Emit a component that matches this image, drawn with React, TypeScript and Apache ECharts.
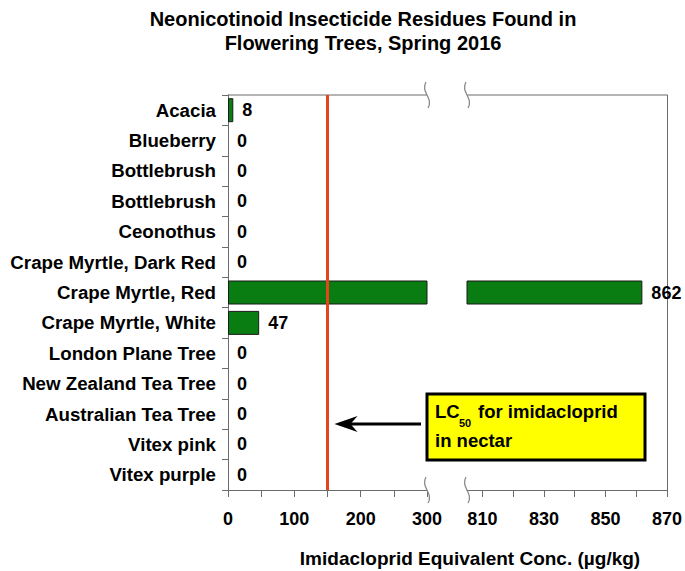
import React, { useEffect, useRef } from 'react';
import * as echarts from 'echarts';

const categories = [
  'Acacia',
  'Blueberry',
  'Bottlebrush',
  'Bottlebrush',
  'Ceonothus',
  'Crape Myrtle, Dark Red',
  'Crape Myrtle, Red',
  'Crape Myrtle, White',
  'London Plane Tree',
  'New Zealand Tea Tree',
  'Australian Tea Tree',
  'Vitex pink',
  'Vitex purple',
];
const values = [8, 0, 0, 0, 0, 0, 862, 47, 0, 0, 0, 0, 0];

const leftMin = 0;
const leftMax = 300;
const leftTicks = [0, 50, 100, 150, 200, 250, 300];
const leftLabels = [0, 100, 200, 300];

const rightMin = 805;
const rightMax = 870;
const rightTicks = [810, 820, 830, 840, 850, 860, 870];
const rightLabels = [810, 830, 850, 870];

const lc50 = 150;

const FONT = '"Liberation Sans", Arial, Helvetica, sans-serif';
const GREEN = '#0a7d12';
const AXIS = '#6b6b6b';
const RED = '#e2471c';

const GT = 95;
const GH = 395;
const LX = 228;
const LW = 199;
const RX = 467;
const RW = 200;

export default function App() {
  const ref = useRef<HTMLDivElement>(null);
  useEffect(() => {
    document.body.style.margin = '0';
    const chart = echarts.init(ref.current!, null, { renderer: 'svg' });
    const labelStyle = {
      fontFamily: FONT,
      fontWeight: 'bold' as const,
      fontSize: 18,
      color: '#000',
    };
    const option: any = {
      animation: false,
      backgroundColor: '#fff',
      grid: [
        { left: LX, top: GT, width: LW, height: GH },
        { left: RX, top: GT, width: RW, height: GH },
      ],
      xAxis: [
        {
          type: 'value',
          gridIndex: 0,
          min: leftMin,
          max: leftMax,
          splitLine: { show: false },
          axisLine: { show: true, lineStyle: { color: AXIS, width: 1 } },
          axisTick: { show: true, length: 7, lineStyle: { color: AXIS }, customValues: leftTicks },
          axisLabel: { ...labelStyle, margin: 20, customValues: leftLabels },
        },
        {
          type: 'value',
          gridIndex: 1,
          min: rightMin,
          max: rightMax,
          splitLine: { show: false },
          axisLine: { show: true, lineStyle: { color: AXIS, width: 1 } },
          axisTick: { show: true, length: 7, lineStyle: { color: AXIS }, customValues: rightTicks },
          axisLabel: { ...labelStyle, margin: 20, customValues: rightLabels },
        },
      ],
      yAxis: [
        {
          type: 'category',
          gridIndex: 0,
          data: categories,
          inverse: true,
          axisLine: { show: true, lineStyle: { color: AXIS, width: 1 } },
          axisTick: { show: true, length: 6, lineStyle: { color: AXIS } },
          axisLabel: { ...labelStyle, fontSize: 18.7, margin: 12, interval: 0 },
        },
        {
          type: 'category',
          gridIndex: 1,
          data: categories,
          inverse: true,
          position: 'right',
          axisLine: { show: true, lineStyle: { color: AXIS, width: 1 } },
          axisTick: { show: false },
          axisLabel: { show: false },
        },
      ],
      series: [
        {
          type: 'bar',
          xAxisIndex: 0,
          yAxisIndex: 0,
          barWidth: 24,
          clip: true,
          data: values.map((v) =>
            v === 0 ? { value: v, itemStyle: { borderWidth: 0 } } : v
          ),
          itemStyle: { color: GREEN, borderColor: '#1b1b1b', borderWidth: 1 },
          label: {
            show: true,
            position: 'right',
            distance: 9,
            ...labelStyle,
            formatter: (p: any) => (p.value > leftMax ? '' : String(p.value)),
          },
          markLine: {
            silent: true,
            symbol: 'none',
            label: { show: false },
            lineStyle: { color: RED, width: 3, type: 'solid' },
            data: [{ xAxis: lc50 }],
          },
        },
        {
          type: 'bar',
          xAxisIndex: 1,
          yAxisIndex: 1,
          barWidth: 24,
          clip: true,
          data: values.map((v) => (v > rightMin ? v : '-')),
          itemStyle: { color: GREEN, borderColor: '#1b1b1b', borderWidth: 1 },
          label: {
            show: true,
            position: 'right',
            distance: 9,
            ...labelStyle,
            formatter: (p: any) => String(p.value),
          },
        },
      ],
    };
    chart.setOption(option);

    const redX = chart.convertToPixel({ xAxisIndex: 0 } as any, lc50) as number;
    const arrowY = 424;
    const tipX = redX + 7;
    const breakMark = (x: number, y: number) => ({
      type: 'bezierCurve',
      shape: { x1: x - 1, y1: y - 13, cpx1: x - 7, cpy1: y - 3, cpx2: x + 7, cpy2: y + 3, x2: x + 1, y2: y + 13 },
      style: { stroke: '#8a8a8a', lineWidth: 1.3, fill: 'none' },
      z: 10,
    });
    const boxText = { fontFamily: FONT, fontWeight: 'bold', fontSize: 18.5, fill: '#000' };

    chart.setOption({
      graphic: [
        {
          type: 'text',
          x: 363,
          y: 7,
          style: {
            text: 'Neonicotinoid Insecticide Residues Found in\nFlowering Trees, Spring 2016',
            fontFamily: FONT,
            fontWeight: 'bold',
            fontSize: 20,
            lineHeight: 24,
            align: 'center',
            fill: '#000',
          },
        },
        {
          type: 'text',
          x: 470,
          y: 558,
          style: {
            text: 'Imidacloprid Equivalent Conc. (µg/kg)',
            fontFamily: FONT,
            fontWeight: 'bold',
            fontSize: 19,
            align: 'center',
            verticalAlign: 'middle',
            fill: '#000',
          },
        },
        { type: 'line', shape: { x1: LX, y1: GT, x2: LX + LW, y2: GT }, style: { stroke: AXIS, lineWidth: 1 } },
        { type: 'line', shape: { x1: RX, y1: GT, x2: RX + RW, y2: GT }, style: { stroke: AXIS, lineWidth: 1 } },
        breakMark(LX + LW, GT),
        breakMark(RX, GT),
        breakMark(LX + LW, GT + GH),
        breakMark(RX, GT + GH),
        {
          type: 'line',
          shape: { x1: 421, y1: arrowY, x2: tipX + 12, y2: arrowY },
          style: { stroke: '#000', lineWidth: 3 },
          z: 20,
        },
        {
          type: 'polygon',
          shape: { points: [[tipX, arrowY], [tipX + 23, arrowY - 8], [tipX + 16, arrowY], [tipX + 23, arrowY + 8]] },
          style: { fill: '#000' },
          z: 20,
        },
        {
          type: 'rect',
          shape: { x: 427, y: 394, width: 218, height: 66 },
          style: { fill: '#ffff00', stroke: '#000', lineWidth: 3 },
          z: 20,
        },
        { type: 'text', x: 435, y: 402, style: { text: 'LC', ...boxText }, z: 21 },
        {
          type: 'text',
          x: 459,
          y: 417,
          style: { text: '50', fontFamily: FONT, fontWeight: 'bold', fontSize: 11, fill: '#000' },
          z: 21,
        },
        { type: 'text', x: 478, y: 402, style: { text: 'for imidacloprid', ...boxText }, z: 21 },
        { type: 'text', x: 435, y: 431, style: { text: 'in nectar', ...boxText }, z: 21 },
      ],
    });

    return () => chart.dispose();
  }, []);
  return (
    <div
      ref={ref}
      style={{ position: 'fixed', left: 0, top: 0, width: 685, height: 571 }}
    />
  );
}
